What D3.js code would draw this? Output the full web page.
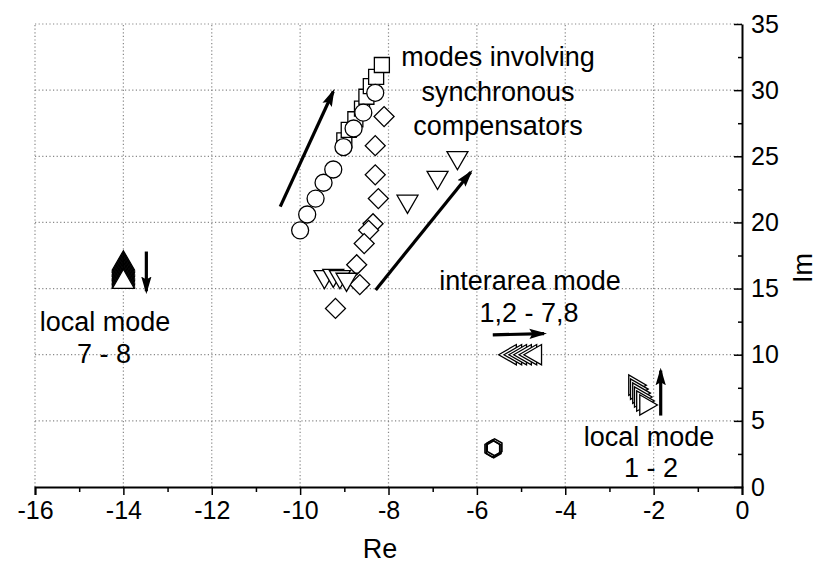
<!DOCTYPE html>
<html>
<head>
<meta charset="utf-8">
<script src="https://cdn.jsdelivr.net/npm/d3@7"></script>
<style>
  body { margin: 0; background: #fff; }
  text { font-family: "Liberation Sans", Arial, sans-serif; fill: #000; }
</style>
</head>
<body>
<script>
// eigenvalues: [Re, Im]
var sincronos = [[-9.0, 26.2], [-8.9, 27.0], [-8.75, 27.8], [-8.6, 28.6], [-8.5, 29.5],
                 [-8.4, 30.3], [-8.28, 31.0], [-8.15, 31.9]];
var circulos = [[-10.0, 19.4], [-9.84, 20.6], [-9.65, 21.8], [-9.47, 23.0], [-9.25, 24.0],
                [-9.02, 25.7], [-8.79, 27.1], [-8.57, 28.3], [-8.3, 29.8]];
var losangos = [[-8.1, 28.0], [-8.3, 25.8], [-8.3, 23.6], [-8.23, 21.8], [-8.35, 19.9],
                [-8.45, 19.4], [-8.55, 18.4], [-8.72, 16.8], [-8.65, 15.3], [-9.2, 13.5]];
var triBaixo = [[-9.45, 15.9], [-9.25, 16.0], [-9.1, 15.9], [-8.95, 15.7],
                [-7.57, 21.6], [-6.89, 23.4], [-6.44, 24.9]];
var interarea = [[-5.24, 10.0], [-5.12, 10.0], [-5.01, 10.0], [-4.9, 10.0], [-4.78, 10.0], [-4.67, 10.0]];
var local12 = [[-2.43, 7.7], [-2.39, 7.4], [-2.34, 7.1], [-2.3, 6.8], [-2.25, 6.5], [-2.18, 6.2]];
// desenhados de cima para baixo
var local78 = [[-14.0, 16.9], [-14.0, 16.8], [-14.0, 16.7], [-14.0, 16.6], [-14.0, 16.5],
               [-14.0, 16.4], [-14.0, 16.3], [-14.0, 16.2], [-14.0, 16.1], [-14.0, 16.0],
               [-14.0, 15.9], [-14.0, 15.8], [-14.0, 15.7], [-14.0, 15.6], [-14.0, 15.5]];
var hexagonos = [[-5.65, 2.9], [-5.6, 3.0], [-5.62, 2.85]];

// setas: [x0, y0, x1, y1]
var setas = [[-10.45, 21.2, -9.25, 29.9], [-8.29, 14.9, -6.14, 23.8],
             [-5.64, 11.5, -4.48, 11.6], [-1.84, 5.4, -1.84, 8.8], [-13.48, 17.8, -13.48, 14.8]];

var xTicks = [-16, -14, -12, -10, -8, -6, -4, -2, 0];
var yTicks = [0, 5, 10, 15, 20, 25, 30, 35];

var largura = 819, altura = 564;
var x = d3.scaleLinear().domain([-16, 0]).range([35, 742]);
var y = d3.scaleLinear().domain([0, 35]).range([487, 24]);

var svg = d3.select("body").append("svg")
            .attr("width", largura)
            .attr("height", altura);

svg.append("defs").append("marker")
   .attr("id", "ponta")
   .attr("viewBox", "0 0 12 8")
   .attr("refX", 10).attr("refY", 4)
   .attr("markerWidth", 5.5).attr("markerHeight", 3.7)
   .attr("orient", "auto")
   .append("path")
   .attr("d", "M0,0.5 L12,4 L0,7.5 L2,4 z")
   .attr("fill", "#000");

// grade pontilhada
svg.append("g").selectAll("line")
   .data(xTicks.filter(function(d) { return d < 0; }))
   .enter().append("line")
   .attr("x1", function(d) { return x(d); }).attr("x2", function(d) { return x(d); })
   .attr("y1", y(0)).attr("y2", y(35))
   .attr("stroke", "#888").attr("stroke-width", 1.2).attr("stroke-dasharray", "1.2,2.4");
svg.append("g").selectAll("line")
   .data(yTicks.filter(function(d) { return d > 0; }))
   .enter().append("line")
   .attr("x1", x(-16)).attr("x2", x(0))
   .attr("y1", function(d) { return y(d); }).attr("y2", function(d) { return y(d); })
   .attr("stroke", "#888").attr("stroke-width", 1.2).attr("stroke-dasharray", "1.2,2.4");

// eixos
var eixoX = svg.append("g").attr("transform", "translate(0," + y(0) + ")")
   .call(d3.axisBottom(x).tickValues(xTicks).tickSize(8).tickPadding(6).tickFormat(function(d) { return String(d); }));
svg.append("g").attr("transform", "translate(0," + y(0) + ")")
   .call(d3.axisBottom(x).tickValues(d3.range(-15, 0, 2)).tickSize(5).tickFormat(""))
   .select(".domain").remove();
var eixoY = svg.append("g").attr("transform", "translate(" + x(0) + ",0)")
   .call(d3.axisRight(y).tickValues(yTicks).tickSizeInner(-8).tickSizeOuter(0).tickPadding(9));
svg.append("g").attr("transform", "translate(" + x(0) + ",0)")
   .call(d3.axisRight(y).tickValues([2.5, 7.5, 12.5, 17.5, 22.5, 27.5, 32.5]).tickSizeInner(-4).tickFormat(""))
   .select(".domain").remove();

svg.selectAll(".domain").attr("stroke-width", 2);
svg.selectAll(".tick line").attr("stroke-width", 1.5);
svg.selectAll(".tick text").style("font-size", "25px");
eixoX.selectAll(".tick text").attr("dy", "0.72em");

// marcadores
function simbolos(dados, tipo, tam, rot) {
  svg.append("g").selectAll("path")
     .data(dados)
     .enter().append("path")
     .attr("d", d3.symbol().type(tipo).size(tam))
     .attr("transform", function(d) {
       return "translate(" + x(d[0]) + "," + y(d[1]) + ") rotate(" + rot + ")";
     })
     .attr("fill", "#fff")
     .attr("stroke", "#000")
     .attr("stroke-width", 1.3);
}

simbolos(sincronos, d3.symbolSquare, 225, 0);
simbolos(circulos, d3.symbolCircle, 227, 0);
simbolos(losangos, d3.symbolSquare, 200, 45);
simbolos(triBaixo, d3.symbolTriangle, 190, 180);
simbolos(interarea, d3.symbolTriangle, 180, -90);
simbolos(local12, d3.symbolTriangle, 180, 90);
simbolos(local78, d3.symbolTriangle, 210, 0);

var hexagono = d3.range(6).map(function(i) {
  var a = Math.PI / 6 + i * Math.PI / 3;
  return [8.5 * Math.cos(a), 8.5 * Math.sin(a)];
});
svg.append("g").selectAll("path")
   .data(hexagonos)
   .enter().append("path")
   .attr("d", "M" + hexagono.join("L") + "Z")
   .attr("transform", function(d) { return "translate(" + x(d[0]) + "," + y(d[1]) + ")"; })
   .attr("fill", "none")
   .attr("stroke", "#000")
   .attr("stroke-width", 1.6);

// setas
svg.append("g").selectAll("line")
   .data(setas)
   .enter().append("line")
   .attr("x1", function(d) { return x(d[0]); })
   .attr("y1", function(d) { return y(d[1]); })
   .attr("x2", function(d) { return x(d[2]); })
   .attr("y2", function(d) { return y(d[3]); })
   .attr("stroke", "#000")
   .attr("stroke-width", 3.2)
   .attr("marker-end", "url(#ponta)");

// textos
var rotulos = [
  ["modes involving", 498, 66], ["synchronous", 498, 101], ["compensators", 498, 135],
  ["interarea mode", 530, 290], ["1,2 - 7,8", 529, 322],
  ["local mode", 105, 331], ["7 - 8", 104, 363],
  ["local mode", 649, 446], ["1 - 2", 651, 477]
];
svg.append("g").selectAll("text")
   .data(rotulos)
   .enter().append("text")
   .attr("x", function(d) { return d[1]; })
   .attr("y", function(d) { return d[2]; })
   .attr("text-anchor", "middle")
   .style("font-size", "27px")
   .text(function(d) { return d[0]; });

svg.append("text")
   .attr("x", 380).attr("y", 558)
   .attr("text-anchor", "middle")
   .style("font-size", "27px")
   .text("Re");
svg.append("text")
   .attr("transform", "translate(812,268) rotate(-90)")
   .attr("text-anchor", "middle")
   .style("font-size", "27px")
   .text("Im");
</script>
</body>
</html>
